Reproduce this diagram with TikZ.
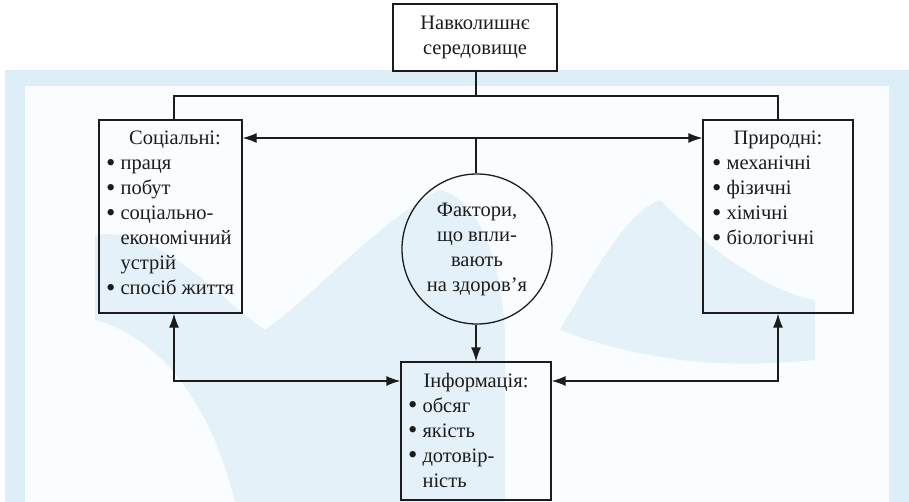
\documentclass[tikz,border=0pt]{standalone}
\usepackage{fontspec}
\setmainfont{Liberation Serif}
\usetikzlibrary{arrows.meta}
\definecolor{ink}{HTML}{1C1C1C}
\definecolor{bgblue}{HTML}{DDEEF8}
\definecolor{bginner}{HTML}{FAFDFF}
\definecolor{wm}{HTML}{E5F1F9}
\newcommand\bul{\raisebox{-1.2pt}{\scalebox{1.3}{\textbullet}}}
\newcommand\itm[1]{\hbox{\bul\hspace{5pt}#1}}
\newcommand\cnt[1]{\hbox{\phantom{\bul}\hspace{5pt}#1}}
\begin{document}
\begin{tikzpicture}[x=1pt,y=-1pt,
  txt/.style={font=\fontsize{20.5}{25}\selectfont, inner sep=0pt, text=ink},
  box/.style={draw=ink, line width=1.3pt, rectangle, inner sep=0pt},
  conn/.style={draw=ink, line width=1.3pt},
  arr/.style={conn, -{Latex[length=14pt,width=10pt]}},
  dbl/.style={conn, {Latex[length=14pt,width=10pt]}-{Latex[length=14pt,width=10pt]}},
]
\useasboundingbox (0,0) rectangle (909,502);
% background
\fill[bgblue] (5,70) rectangle (909,502);
\fill[bginner] (25,86) rectangle (889,502);
\fill[wm] (95,235) .. controls (160,225) and (220,300) .. (265,330) .. controls (320,290) and (380,220) .. (440,190) .. controls (480,200) and (500,260) .. (505,330) -- (505,502) -- (235,502) .. controls (215,420) and (170,340) .. (95,320) -- cycle;
\fill[wm] (560,330) .. controls (600,260) and (630,210) .. (660,200) .. controls (700,240) and (760,290) .. (815,300) -- (815,360) .. controls (720,370) and (640,360) .. (560,330) -- cycle;

% nodes
\node[box, fill=white, minimum width=164pt, minimum height=67pt, txt] (env) at (475,37.5)
  {\begin{tabular}{@{}c@{}}Навколишнє\\середовище\end{tabular}};
\node[box, minimum width=143pt, minimum height=193pt] (soc) at (170.5,216.5) {};
\node[box, minimum width=150pt, minimum height=193pt] (nat) at (778,216.5) {};
\node[box, minimum width=150pt, minimum height=138pt] (info) at (476,431) {};
\node[draw=ink, line width=1.3pt, circle, minimum size=150pt, inner sep=0pt, txt] (fac) at (477,249)
  {\makebox[0pt]{\begin{tabular}{@{}c@{}}Фактори,\\що впли-\\вають\\на здоров’я\end{tabular}}};

% box texts
\node[txt, anchor=base] (soch) at (175,145) {Соціальні:};
\node[txt, anchor=base west] (socl) at (106,170) {\vtop{\itm{праця}\itm{побут}\itm{соціально-}\cnt{економічний}\cnt{устрій}\itm{спосіб життя}}};
\node[txt, anchor=base] (nath) at (778,145) {Природні:};
\node[txt, anchor=base west] (natl) at (712,170) {\vtop{\itm{механічні}\itm{фізичні}\itm{хімічні}\itm{біологічні}}};
\node[txt, anchor=base] (infh) at (476,387) {Інформація:};
\node[txt, anchor=base west] (infl) at (408,412) {\vtop{\itm{обсяг}\itm{якість}\itm{дотовір-}\cnt{ність}}};

% connectors
\coordinate (bl) at (174,96);
\coordinate (br) at (778,96);
\coordinate (mid) at (476,138);
\coordinate (lc) at (174,381);
\coordinate (rc) at (778,381);
\draw[conn] (env.south -| mid) -- (mid |- bl);
\draw[conn] (bl |- soc.north) -- (bl) -- (br) -- (br |- nat.north);
\draw[arr] (mid) -- (soc.east |- mid);
\draw[arr] (mid) -- (nat.west |- mid);
\draw[conn] (mid) -- (fac.north -| mid);
\draw[arr] (fac.south -| mid) -- (info.north -| mid);
\draw[dbl] (soc.south -| lc) -- (lc) -- (info.west |- lc);
\draw[dbl] (nat.south -| rc) -- (rc) -- (info.east |- rc);
\end{tikzpicture}
\end{document}
